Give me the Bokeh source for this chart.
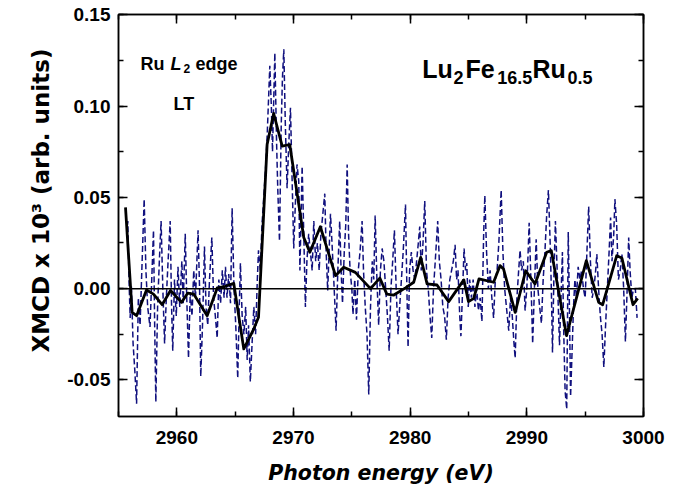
from bokeh.plotting import figure
from bokeh.models import (LinearAxis, Range1d, Span, Label, Title, SingleIntervalTicker,
                          PrintfTickFormatter)
from bokeh.embed import file_html
from bokeh.resources import INLINE

# ---------------- data ----------------
raw_energy = [
    2955.70, 2955.80, 2955.90, 2956.00, 2956.10, 2956.25, 2956.40, 2956.55, 2956.70, 2956.85,
    2957.00, 2957.20, 2957.35, 2957.50, 2957.70, 2957.85, 2958.00, 2958.10, 2958.20, 2958.35,
    2958.50, 2958.65, 2958.80, 2958.95, 2959.10, 2959.25, 2959.43, 2959.55, 2959.65, 2959.80,
    2959.95, 2960.10, 2960.25, 2960.43, 2960.55, 2960.72, 2960.85, 2961.00, 2961.15, 2961.30,
    2961.45, 2961.60, 2961.82, 2961.95, 2962.05, 2962.20, 2962.37, 2962.50, 2962.65, 2962.80,
    2963.00, 2963.15, 2963.30, 2963.46, 2963.60, 2963.75, 2963.90, 2964.05, 2964.17, 2964.30,
    2964.45, 2964.60, 2964.74, 2964.90, 2965.05, 2965.22, 2965.35, 2965.45, 2965.60, 2965.75,
    2965.90, 2966.03, 2966.15, 2966.30, 2966.45, 2966.60, 2966.75, 2966.90, 2967.00, 2967.15,
    2967.30, 2967.45, 2967.60, 2967.75, 2967.97, 2968.10, 2968.20, 2968.40, 2968.55, 2968.65,
    2968.80, 2968.95, 2969.05, 2969.17, 2969.30, 2969.45, 2969.60, 2969.74, 2969.88, 2970.02,
    2970.15, 2970.30, 2970.45, 2970.55, 2970.65, 2970.74, 2970.88, 2971.02, 2971.15, 2971.30,
    2971.45, 2971.60, 2971.74, 2971.90, 2972.05, 2972.20, 2972.35, 2972.50, 2972.68, 2972.80,
    2972.93, 2973.05, 2973.17, 2973.30, 2973.45, 2973.65, 2973.80, 2973.96, 2974.08, 2974.20,
    2974.35, 2974.48, 2974.60, 2974.72, 2974.85, 2975.00, 2975.10, 2975.25, 2975.40, 2975.55,
    2975.70, 2975.88, 2976.00, 2976.15, 2976.30, 2976.45, 2976.60, 2976.75, 2976.88, 2977.00,
    2977.15, 2977.30, 2977.45, 2977.60, 2977.75, 2977.90, 2978.05, 2978.20, 2978.35, 2978.50,
    2978.65, 2978.80, 2978.96, 2979.10, 2979.25, 2979.40, 2979.60, 2979.72, 2979.82, 2979.95,
    2980.10, 2980.25, 2980.40, 2980.55, 2980.70, 2980.82, 2980.95, 2981.10, 2981.25, 2981.40,
    2981.55, 2981.70, 2981.85, 2982.00, 2982.15, 2982.36, 2982.50, 2982.65, 2982.80, 2982.95,
    2983.10, 2983.25, 2983.40, 2983.55, 2983.70, 2983.85, 2983.98, 2984.10, 2984.25, 2984.35,
    2984.50, 2984.62, 2984.75, 2984.85, 2984.98, 2985.10, 2985.25, 2985.40, 2985.55, 2985.70,
    2985.85, 2986.00, 2986.15, 2986.30, 2986.40, 2986.55, 2986.70, 2986.85, 2987.00, 2987.15,
    2987.30, 2987.45, 2987.60, 2987.80, 2987.95, 2988.10, 2988.25, 2988.45, 2988.60, 2988.75,
    2988.90, 2989.00, 2989.15, 2989.30, 2989.42, 2989.55, 2989.70, 2989.85, 2990.00, 2990.20,
    2990.35, 2990.50, 2990.65, 2990.80, 2990.95, 2991.10, 2991.25, 2991.40, 2991.55, 2991.70,
    2991.85, 2992.00, 2992.10, 2992.20, 2992.33, 2992.45, 2992.60, 2992.80, 2992.95, 2993.05,
    2993.15, 2993.28, 2993.42, 2993.55, 2993.65, 2993.75, 2993.90, 2994.00, 2994.12, 2994.25,
    2994.40, 2994.55, 2994.70, 2994.85, 2995.00, 2995.15, 2995.30, 2995.45, 2995.60, 2995.75,
    2995.90, 2996.00, 2996.15, 2996.30, 2996.45, 2996.60, 2996.75, 2996.90, 2997.05, 2997.18,
    2997.30, 2997.45, 2997.55, 2997.70, 2997.85, 2998.00, 2998.15, 2998.30, 2998.45, 2998.60,
    2998.73, 2998.85, 2999.00, 2999.15, 2999.30, 2999.45,
]
raw_xmcd = [
    0.030, 0.037, 0.005, -0.016, 0.002, -0.030, -0.045, -0.063, -0.005, -0.020,
    0.010, 0.049, 0.010, -0.010, -0.021, 0.005, 0.032, -0.020, -0.062, -0.010,
    0.015, 0.037, 0.000, -0.030, -0.005, 0.015, 0.037, -0.010, -0.034, 0.005,
    -0.015, 0.012, -0.010, 0.015, -0.008, 0.030, -0.005, -0.038, -0.002, -0.015,
    0.010, -0.005, 0.032, 0.000, -0.048, -0.020, 0.023, -0.010, -0.020, 0.005,
    0.028, -0.005, -0.015, -0.027, 0.005, -0.008, 0.010, -0.005, 0.012, -0.005,
    0.008, -0.008, 0.044, 0.000, -0.020, -0.049, -0.010, 0.014, -0.015, -0.025,
    -0.010, -0.039, -0.020, -0.051, -0.030, -0.010, -0.025, 0.005, 0.021, 0.010,
    0.035, 0.050, 0.065, 0.085, 0.122, 0.100, 0.075, 0.129, 0.080, 0.055,
    0.026, 0.090, 0.115, 0.131, 0.090, 0.055, 0.080, 0.099, 0.060, 0.022,
    0.045, 0.068, 0.059, 0.010, 0.040, 0.067, 0.030, -0.010, 0.015, 0.030,
    0.020, 0.010, 0.037, 0.015, 0.025, 0.010, 0.030, 0.040, 0.052, 0.020,
    -0.001, 0.020, 0.041, 0.025, 0.005, -0.023, 0.010, 0.037, 0.010, -0.008,
    0.020, 0.035, 0.068, 0.030, 0.010, 0.000, -0.014, 0.005, -0.017, 0.010,
    0.020, 0.037, 0.010, -0.010, -0.025, -0.058, -0.010, 0.015, 0.005, 0.040,
    0.005, -0.020, 0.010, 0.022, 0.015, 0.000, -0.015, -0.034, 0.000, 0.015,
    0.032, 0.000, -0.025, -0.010, 0.005, 0.020, 0.046, 0.000, -0.032, 0.010,
    0.020, 0.010, 0.005, 0.015, 0.025, 0.034, 0.010, 0.025, 0.048, 0.010,
    0.000, -0.015, -0.027, 0.000, 0.015, 0.037, 0.015, 0.005, -0.010, -0.015,
    -0.028, -0.005, 0.005, 0.010, 0.015, 0.024, 0.005, 0.010, -0.015, -0.026,
    0.000, 0.022, 0.010, 0.014, -0.010, 0.005, -0.005, 0.005, -0.010, 0.000,
    -0.012, -0.005, -0.018, 0.030, 0.051, 0.020, 0.000, 0.010, -0.005, -0.016,
    0.005, 0.010, 0.025, 0.054, 0.020, 0.000, -0.010, -0.023, -0.005, -0.015,
    -0.030, -0.038, -0.005, 0.010, 0.021, 0.010, 0.015, -0.012, 0.000, 0.036,
    0.005, -0.030, 0.000, 0.027, 0.000, -0.010, -0.019, 0.005, 0.020, 0.040,
    0.054, 0.025, 0.000, -0.035, 0.010, 0.037, 0.010, -0.031, 0.000, 0.020,
    -0.020, -0.056, -0.066, 0.031, -0.010, -0.059, -0.030, -0.010, 0.005, -0.005,
    0.012, 0.005, 0.010, 0.000, -0.005, 0.020, 0.045, 0.015, -0.005, 0.000,
    0.010, 0.019, 0.000, -0.015, -0.025, -0.043, -0.020, 0.000, 0.020, 0.039,
    0.015, 0.030, 0.049, 0.035, 0.005, 0.010, 0.019, 0.000, -0.029, 0.000,
    0.028, 0.010, -0.005, 0.000, 0.000, -0.016,
]

smooth_energy = [
    2955.60, 2956.17, 2956.55, 2957.40, 2958.00, 2958.74, 2959.46, 2960.40, 2960.94, 2961.45,
    2962.60, 2963.46, 2964.17, 2964.88, 2965.74, 2966.60, 2967.00, 2967.74, 2968.30, 2969.03,
    2969.68, 2970.88, 2971.40, 2972.30, 2973.60, 2974.30, 2975.30, 2976.60, 2977.40, 2978.00,
    2978.60, 2979.60, 2980.30, 2980.90, 2981.45, 2982.30, 2983.30, 2984.60, 2985.00, 2985.45,
    2985.90, 2987.15, 2987.70, 2988.00, 2989.00, 2989.90, 2990.70, 2991.70, 2992.10, 2993.40,
    2995.10, 2996.16, 2996.50, 2997.70, 2998.15, 2999.10, 2999.50,
]
smooth_xmcd = [
    0.0445, -0.0130, -0.0148, -0.0007, -0.0030, -0.0088, -0.0010, -0.0075, -0.0024, -0.0030,
    -0.0148, 0.0004, 0.0013, 0.0029, -0.0330, -0.0220, -0.0157, 0.0790, 0.0959, 0.0780,
    0.0788, 0.0280, 0.0199, 0.0339, 0.0071, 0.0117, 0.0089, 0.0000, 0.0058, -0.0030,
    -0.0035, 0.0004, 0.0035, 0.0171, 0.0026, 0.0020, -0.0071, 0.0048, -0.0071, -0.0053,
    0.0053, 0.0035, 0.0126, 0.0108, -0.0130, 0.0098, 0.0026, 0.0199, 0.0208, -0.0257,
    0.0153, -0.0075, -0.0088, 0.0180, 0.0168, -0.0088, -0.0053,
]

x_label = "Photon energy (eV)"
y_label = "XMCD x 10\u00b3 (arb. units)"

# ---------------- figure ----------------
p = figure(width=676, height=487, output_backend="svg", toolbar_location=None,
           x_range=Range1d(2955, 3000), y_range=Range1d(-0.07, 0.1501),
           min_border_left=118, min_border_right=33, min_border_top=14, min_border_bottom=71,
           background_fill_color="white", border_fill_color="white")
p.xgrid.visible = False
p.ygrid.visible = False
p.outline_line_color = "black"
p.outline_line_width = 1.5


def style_axis(ax, interval, labels):
    ax.ticker = SingleIntervalTicker(interval=interval, num_minor_ticks=2)
    ax.axis_line_color = "black"
    ax.axis_line_width = 1.5
    ax.major_tick_line_width = 1.5
    ax.minor_tick_line_width = 1.5
    ax.major_tick_line_color = "black"
    ax.minor_tick_line_color = "black"
    ax.major_tick_in = 9
    ax.major_tick_out = 0
    ax.minor_tick_in = 5
    ax.minor_tick_out = 0
    if labels:
        ax.major_label_text_font = "Liberation Sans"
        ax.major_label_text_font_style = "bold"
        ax.major_label_text_font_size = "19px"
        ax.major_label_text_color = "black"
    else:
        ax.major_label_text_color = None
        ax.major_label_text_font_size = "0px"
        ax.major_label_standoff = 0


bx = p.xaxis[0]
style_axis(bx, 10, True)
bx.major_label_standoff = 14
bx.axis_label = x_label
bx.axis_label_text_font = "DejaVu Sans"
bx.axis_label_text_font_style = "bold italic"
bx.axis_label_text_font_size = "20.5px"
bx.axis_label_text_color = "black"
bx.axis_label_standoff = 14

by = p.yaxis[0]
style_axis(by, 0.05, True)
by.major_label_standoff = 8
by.formatter = PrintfTickFormatter(format="%.2f")

top_ax = LinearAxis()
style_axis(top_ax, 10, False)
p.add_layout(top_ax, "above")
right_ax = LinearAxis()
style_axis(right_ax, 0.05, False)
p.add_layout(right_ax, "right")

p.add_layout(Title(text=y_label, align="left", offset=64, standoff=21,
                   text_font="DejaVu Sans", text_font_style="bold",
                   text_font_size="23px", text_color="black"), "left")

p.add_layout(Span(location=0, dimension="width", line_color="black", line_width=1.5))

p.line(raw_energy, raw_xmcd, line_color="#10107e", line_width=1.5, line_dash="6 3")
p.line(smooth_energy, smooth_xmcd, line_color="black", line_width=2.8, line_join="round")


# ---------------- in-plot texts ----------------
def lab(x, y, text, size, style="bold"):
    p.add_layout(Label(x=x, y=y, x_units="screen", y_units="screen", text=text,
                       text_font="Liberation Sans", text_font_style=style,
                       text_font_size=size, text_color="black",
                       text_align="left", text_baseline="alphabetic"))


# Ru L2 edge
lab(22, 353, "Ru", "18px")
lab(52, 353, "L", "18px", style="bold italic")
lab(65, 348, "2", "12px")
lab(77, 353, "edge", "18px")
lab(55, 313, "LT", "18px")

# Lu2Fe16.5Ru0.5
lab(303.7, 347.7, "Lu", "25px")
lab(335, 339, "2", "18px")
lab(347, 347.7, "Fe", "25px")
lab(378.7, 339, "16.5", "18px")
lab(414, 347.7, "Ru", "25px")
lab(449, 339, "0.5", "18px")

open("out.html", "w").write(file_html(p, INLINE))
